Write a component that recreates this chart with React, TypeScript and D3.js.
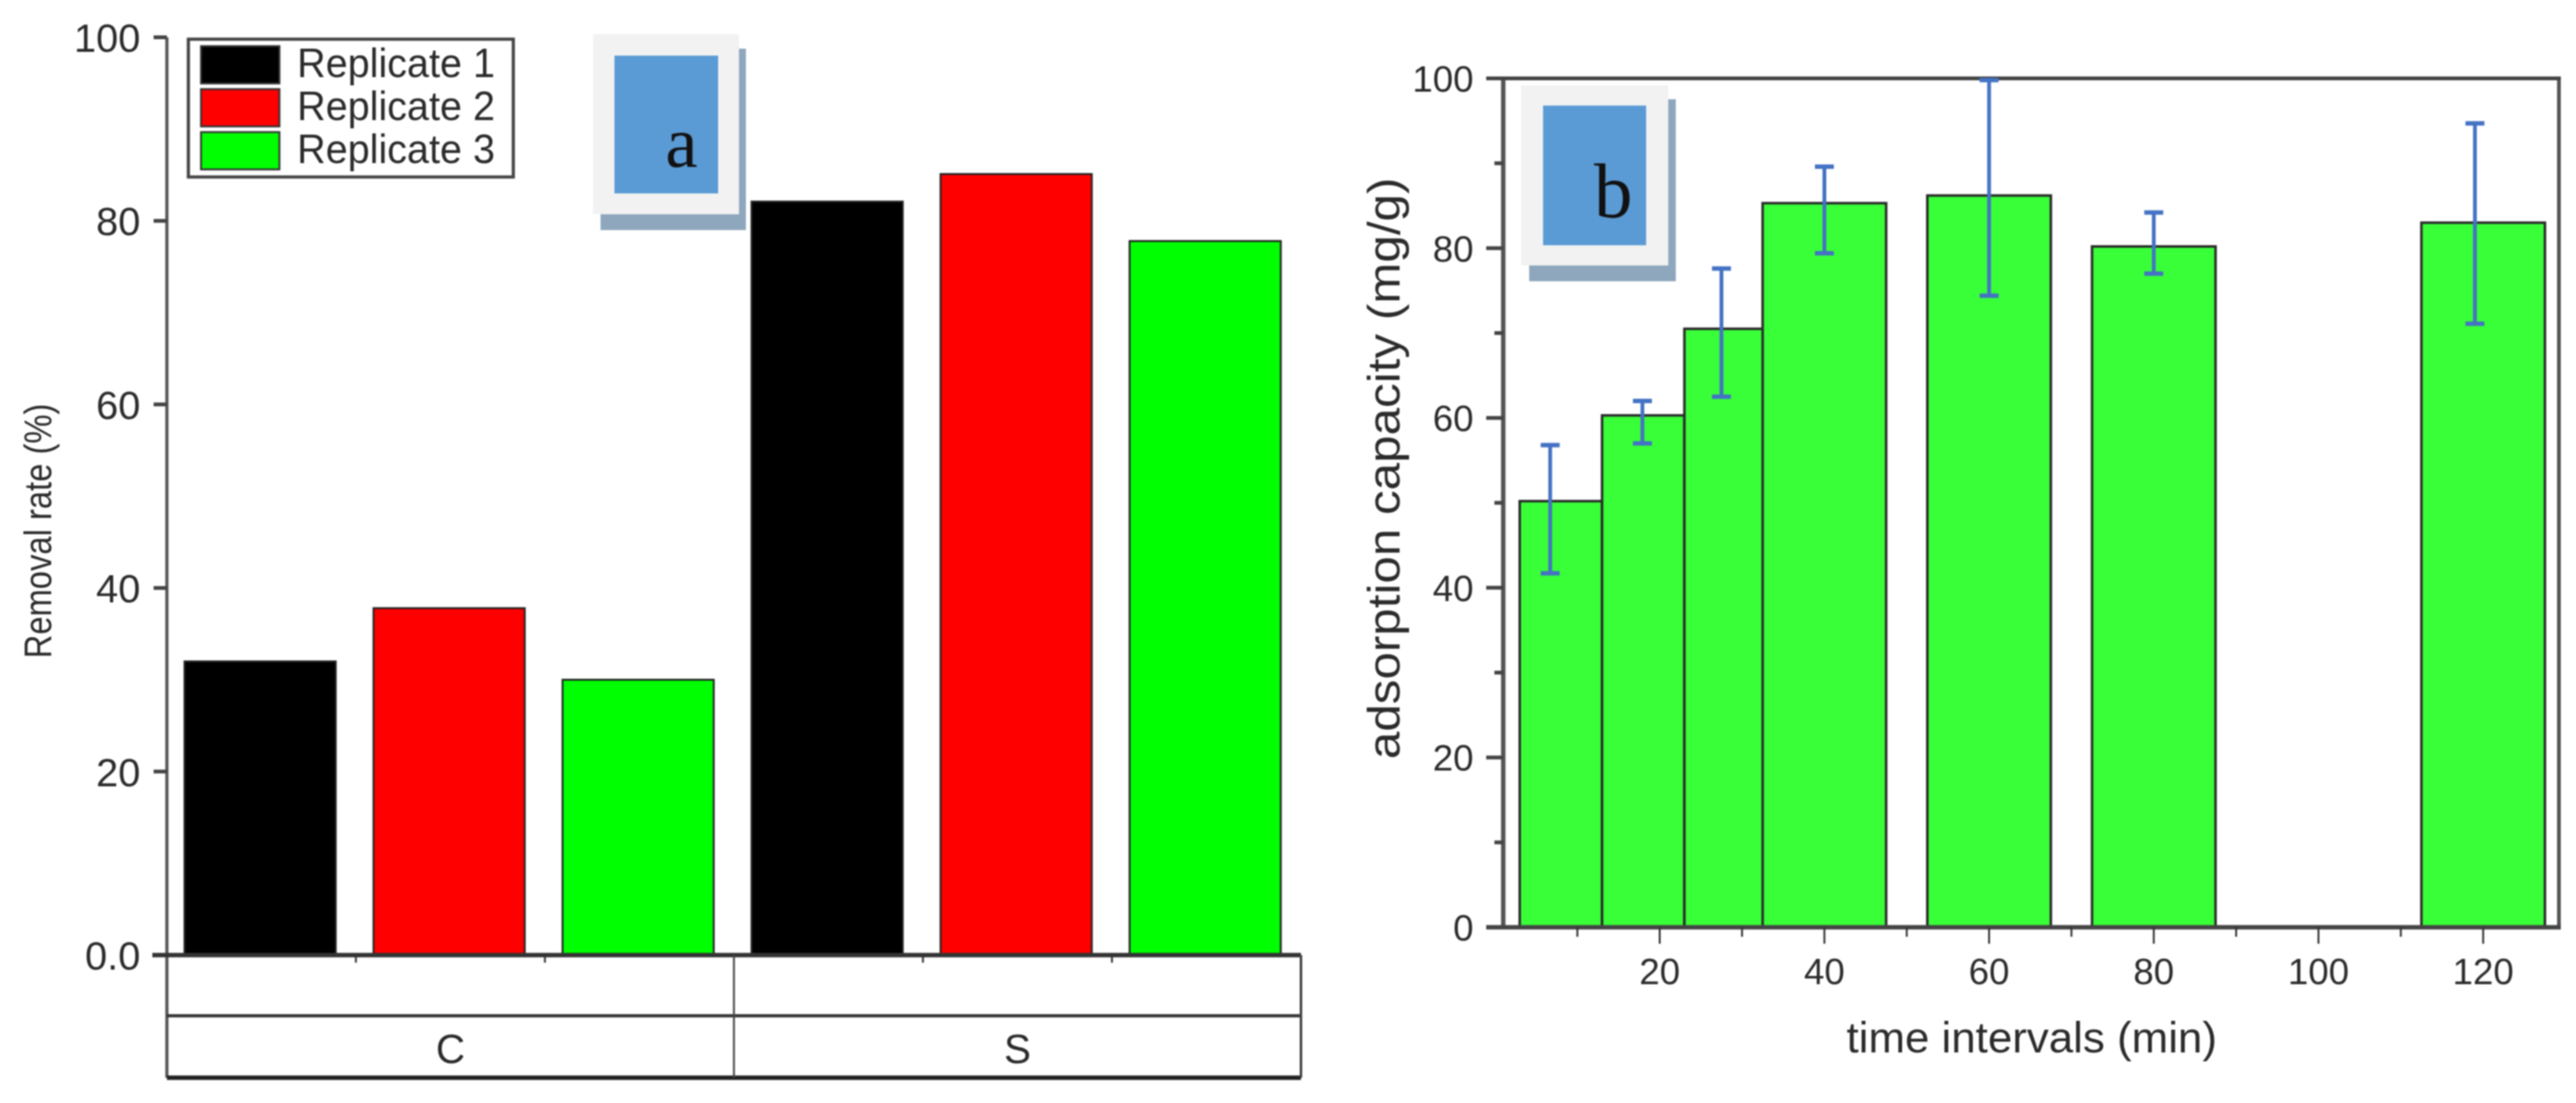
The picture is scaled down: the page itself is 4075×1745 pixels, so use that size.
import * as d3 from "d3";

const FONT = "'Liberation Sans', Arial, sans-serif";
const INK = "#2b2b2b";

// panel a
const replicates = ["Replicate 1", "Replicate 2", "Replicate 3"];
const replicateColors = ["#000000", "#ff0000", "#00ff00"];
const groups = ["C", "S"];
const removalC = [32, 37.8, 30];
const removalS = [82.1, 85.1, 77.8];
const removalTicks = [0, 20, 40, 60, 80, 100];

// panel b
const timeCenters = [8, 18, 28, 40, 60, 80, 120];
const timeWidths = [10, 10, 10, 15, 15, 15, 15];
const capacity = [50.2, 60.3, 70.5, 85.3, 86.2, 80.2, 83];
const errX = [6.7, 17.9, 27.5, 40, 60, 80, 119];
const errHigh = [56.8, 62, 77.6, 89.6, 99.8, 84.2, 94.7];
const errLow = [41.7, 57, 62.5, 79.4, 74.4, 77, 71.1];
const capacityMajor = [0, 20, 40, 60, 80, 100];
const capacityMinor = [10, 30, 50, 70, 90];
const timeMajor = [20, 40, 60, 80, 100, 120];
const timeMinor = [10, 30, 50, 70, 90, 110];

const yA = d3.scaleLinear().domain([0, 100]).range([1511, 59]);
const xA = d3
  .scaleBand<number>()
  .domain(d3.range(6))
  .range([264, 2058])
  .paddingInner(0.2)
  .paddingOuter(0.1);

const yB = d3.scaleLinear().domain([0, 100]).range([1467, 124]);
const xB = d3.scaleLinear().domain([1, 129.2]).range([2378, 4048]);

function Badge({ light, shadow, blue, letter, lx, ly, size }: any) {
  return (
    <g>
      <rect x={shadow[0]} y={shadow[1]} width={shadow[2]} height={shadow[3]} fill="#8fa7bd" />
      <rect x={light[0]} y={light[1]} width={light[2]} height={light[3]} fill="#f2f2f2" />
      <rect x={blue[0]} y={blue[1]} width={blue[2]} height={blue[3]} fill="#5b9bd5" />
      <text x={lx} y={ly} fontSize={size} fontFamily="'Liberation Serif', serif" textAnchor="middle" fill="#111">
        {letter}
      </text>
    </g>
  );
}

function PanelA() {
  const values = [...removalC, ...removalS];
  const step = xA.step();
  const left = xA.range()[0];
  const right = xA.range()[1];
  const base = yA(0);
  const groupX = (i: number) => left + step * 3 * i;
  return (
    <g fontFamily={FONT} fill={INK}>
      {values.map((v, i) => (
        <rect
          key={i}
          x={xA(i)! - 2}
          y={yA(v)}
          width={xA.bandwidth()}
          height={base - yA(v)}
          fill={replicateColors[i % 3]}
          stroke="#222"
          strokeWidth={3}
        />
      ))}

      <line x1={left} x2={left} y1={yA(100)} y2={1705} stroke="#555" strokeWidth={5} />
      {removalTicks.map((t) => (
        <g key={t}>
          <line x1={t === 0 ? 241 : 243} x2={left} y1={yA(t)} y2={yA(t)} stroke="#444" strokeWidth={6} />
          <text x={222} y={yA(t) + 23} fontSize={63} textAnchor="end">
            {t === 0 ? "0.0" : t}
          </text>
        </g>
      ))}

      <line x1={241} x2={right} y1={base} y2={base} stroke="#333" strokeWidth={7} />
      <line x1={left} x2={right} y1={1607} y2={1607} stroke="#333" strokeWidth={5} />
      <line x1={left} x2={right} y1={1705} y2={1705} stroke="#222" strokeWidth={7} />
      <line x1={right} x2={right} y1={base} y2={1705} stroke="#444" strokeWidth={4} />
      <line x1={groupX(1)} x2={groupX(1)} y1={base} y2={1705} stroke="#444" strokeWidth={3} />
      {[1, 2, 4, 5].map((i) => (
        <line key={i} x1={left + step * i} x2={left + step * i} y1={base} y2={1523} stroke="#333" strokeWidth={3} />
      ))}
      {groups.map((g, i) => (
        <text key={g} x={groupX(i) + step * 1.5} y={1682} fontSize={64} textAnchor="middle">
          {g}
        </text>
      ))}

      <text
        transform="translate(81,840) rotate(-90)"
        fontSize={62}
        textAnchor="middle"
        textLength={403}
        lengthAdjust="spacingAndGlyphs"
      >
        Removal rate (%)
      </text>

      <rect x={298} y={62} width={514} height={218} fill="#fff" stroke="#444" strokeWidth={5} />
      {replicates.map((r, i) => (
        <g key={r}>
          <rect x={318} y={73 + i * 68} width={124} height={59} fill={replicateColors[i]} stroke="#333" strokeWidth={3} />
          <text x={470} y={122 + i * 68} fontSize={64} textLength={313} lengthAdjust="spacingAndGlyphs">
            {r}
          </text>
        </g>
      ))}

      <Badge
        light={[938, 54, 231, 285]}
        shadow={[950, 77, 230, 287]}
        blue={[972, 88, 164, 218]}
        letter="a"
        lx={1078}
        ly={264}
        size={115}
      />
    </g>
  );
}

function PanelB() {
  const base = yB(0);
  return (
    <g fontFamily={FONT} fill={INK}>
      {capacity.map((v, i) => (
        <rect
          key={i}
          x={xB(timeCenters[i] - timeWidths[i] / 2)}
          y={yB(v)}
          width={xB(timeCenters[i] + timeWidths[i] / 2) - xB(timeCenters[i] - timeWidths[i] / 2)}
          height={base - yB(v)}
          fill="#39ff39"
          stroke="#2a2a2a"
          strokeWidth={4}
        />
      ))}

      <line x1={xB.range()[0]} x2={xB.range()[0]} y1={yB(100)} y2={base} stroke="#555" strokeWidth={7} />
      <line x1={xB.range()[1]} x2={xB.range()[1]} y1={yB(100)} y2={base} stroke="#555" strokeWidth={6} />
      <line x1={2351} x2={xB.range()[1] + 3} y1={yB(100)} y2={yB(100)} stroke="#444" strokeWidth={6} />
      <line x1={2351} x2={xB.range()[1] + 3} y1={base} y2={base} stroke="#444" strokeWidth={7} />

      {capacityMajor.map((t) => (
        <g key={t}>
          <line x1={2351} x2={2378} y1={yB(t)} y2={yB(t)} stroke="#444" strokeWidth={6} />
          <text x={2331} y={yB(t) + 21} fontSize={58} textAnchor="end">
            {t}
          </text>
        </g>
      ))}
      {capacityMinor.map((t) => (
        <line key={t} x1={2364} x2={2378} y1={yB(t)} y2={yB(t)} stroke="#444" strokeWidth={6} />
      ))}
      {timeMajor.map((t) => (
        <g key={t}>
          <line x1={xB(t)} x2={xB(t)} y1={base} y2={1493} stroke="#333" strokeWidth={3} />
          <text x={xB(t)} y={1557} fontSize={58} textAnchor="middle">
            {t}
          </text>
        </g>
      ))}
      {timeMinor.map((t) => (
        <line key={t} x1={xB(t)} x2={xB(t)} y1={base} y2={1482} stroke="#333" strokeWidth={3} />
      ))}

      {errX.map((x, i) => (
        <g key={i} stroke="#4472c4" strokeWidth={6}>
          <line x1={xB(x)} x2={xB(x)} y1={yB(errHigh[i])} y2={yB(errLow[i])} />
          <line x1={xB(x) - 15} x2={xB(x) + 15} y1={yB(errHigh[i])} y2={yB(errHigh[i])} strokeWidth={7} />
          <line x1={xB(x) - 15} x2={xB(x) + 15} y1={yB(errLow[i])} y2={yB(errLow[i])} strokeWidth={7} />
        </g>
      ))}

      <text x={3214} y={1665} fontSize={69} textAnchor="middle" textLength={586} lengthAdjust="spacingAndGlyphs">
        time intervals (min)
      </text>
      <text
        transform="translate(2214,741) rotate(-90)"
        fontSize={72}
        textAnchor="middle"
        textLength={920}
        lengthAdjust="spacingAndGlyphs"
      >
        adsorption capacity (mg/g)
      </text>

      <Badge
        light={[2406, 135, 233, 285]}
        shadow={[2419, 157, 232, 288]}
        blue={[2441, 167, 163, 221]}
        letter="b"
        lx={2552}
        ly={344}
        size={122}
      />
    </g>
  );
}

export default function App() {
  return (
    <svg
      width={4075}
      height={1745}
      viewBox="0 0 4075 1745"
      style={{ position: "absolute", left: 0, top: 0, background: "#fff", filter: "blur(1.2px)" }}
    >
      <PanelA />
      <PanelB />
    </svg>
  );
}
